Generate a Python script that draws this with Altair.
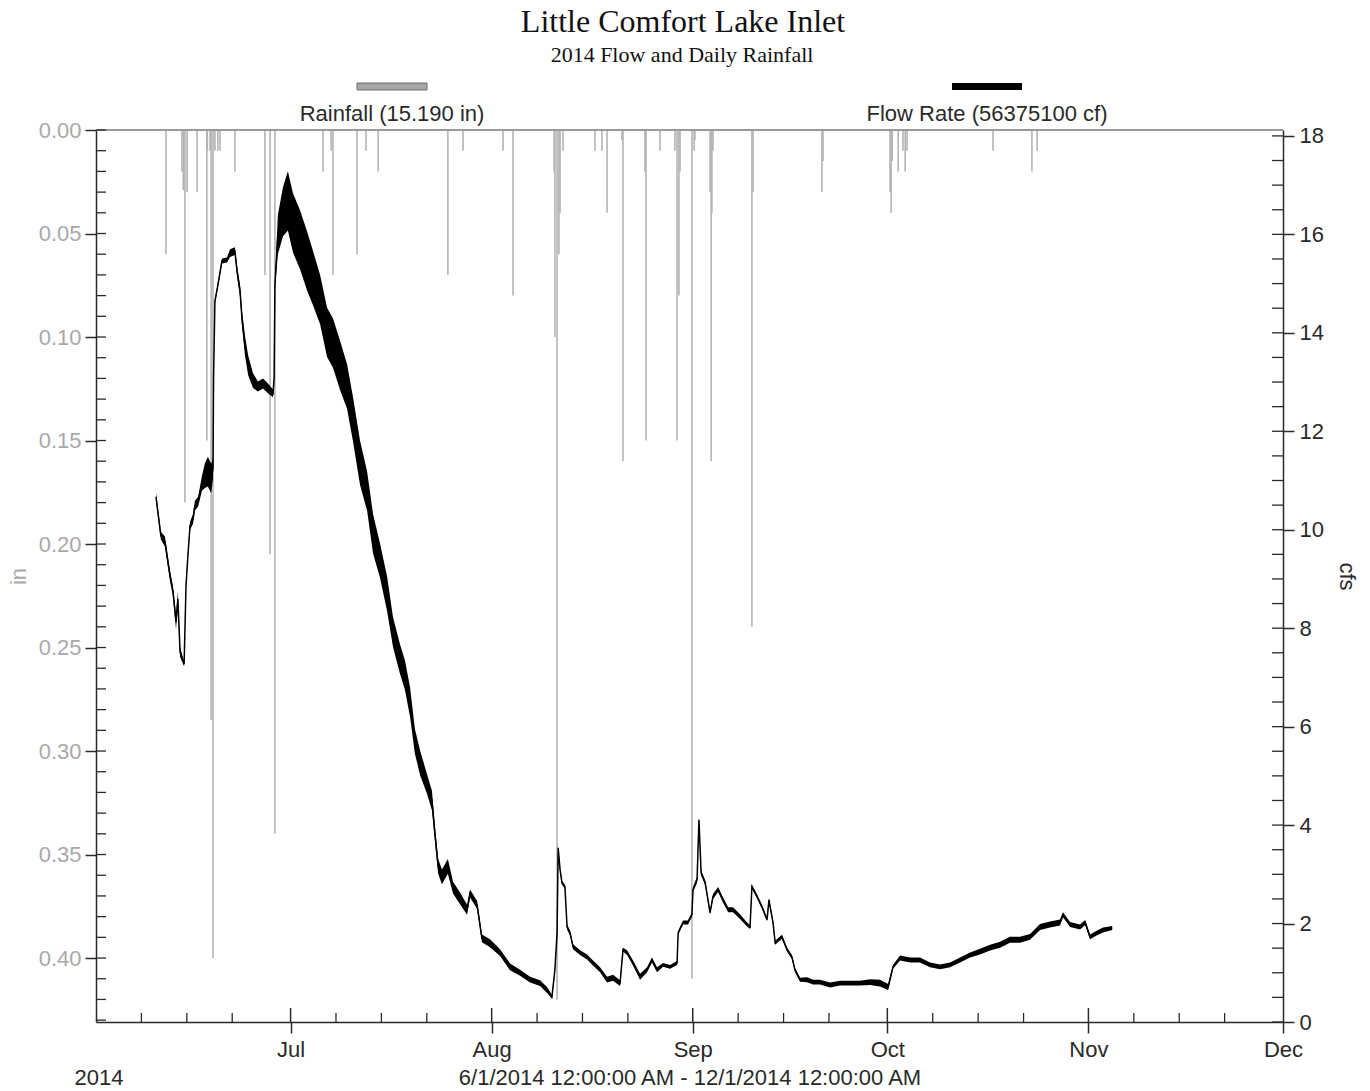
import altair as alt
import pandas as pd
import numpy as np

# ---------------- data ----------------
TITLE = "Little Comfort Lake Inlet"
SUBTITLE = "2014 Flow and Daily Rainfall"
LEGEND_RAIN = "Rainfall (15.190 in)"
LEGEND_FLOW = "Flow Rate (56375100 cf)"
YEAR_LABEL = "2014"
RANGE_LABEL = "6/1/2014 12:00:00 AM - 12/1/2014 12:00:00 AM"

rain_time = [
    "2014-06-11T19:00", "2014-06-14T06:00", "2014-06-14T11:00", "2014-06-14T17:00",
    "2014-06-15T01:00", "2014-06-16T14:00", "2014-06-18T02:00", "2014-06-18T04:00",
    "2014-06-18T14:00", "2014-06-18T18:00", "2014-06-19T01:00", "2014-06-19T08:00",
    "2014-06-19T19:00", "2014-06-20T03:00", "2014-06-22T10:00", "2014-06-27T01:00",
    "2014-06-27T20:00", "2014-06-28T14:00", "2014-07-06T00:00", "2014-07-07T06:00",
    "2014-07-07T13:00", "2014-07-11T06:00", "2014-07-12T15:00", "2014-07-14T12:00",
    "2014-07-25T06:00", "2014-07-27T14:00", "2014-08-02T18:00", "2014-08-04T07:00",
    "2014-08-10T15:00", "2014-08-10T18:00", "2014-08-11T02:00", "2014-08-11T09:00",
    "2014-08-11T13:00", "2014-08-12T00:00", "2014-08-16T22:00", "2014-08-18T00:00",
    "2014-08-18T19:00", "2014-08-21T02:00", "2014-08-21T06:00", "2014-08-24T15:00",
    "2014-08-24T19:00", "2014-08-26T23:00", "2014-08-29T06:00", "2014-08-29T14:00",
    "2014-08-29T21:00", "2014-08-30T01:00", "2014-08-31T21:00", "2014-09-01T05:00",
    "2014-09-01T08:00", "2014-09-03T16:00", "2014-09-03T20:00", "2014-09-03T23:00",
    "2014-09-04T03:00", "2014-09-10T03:00", "2014-09-10T07:00", "2014-09-20T22:00",
    "2014-09-21T02:00", "2014-10-01T10:00", "2014-10-01T14:00", "2014-10-01T18:00",
    "2014-10-02T16:00", "2014-10-03T10:00", "2014-10-03T18:00", "2014-10-04T01:00",
    "2014-10-17T07:00", "2014-10-23T07:00", "2014-10-24T02:00",
]
rain_in = [
    0.06, 0.02, 0.029, 0.18,
    0.03, 0.03, 0.15, 0.01,
    0.01, 0.285, 0.40, 0.01,
    0.01, 0.01, 0.02, 0.07,
    0.205, 0.34, 0.02, 0.01,
    0.07, 0.06, 0.01, 0.02,
    0.07, 0.01, 0.01, 0.08,
    0.02, 0.10, 0.42, 0.06,
    0.04, 0.01, 0.01, 0.01,
    0.04, 0.005, 0.16, 0.02,
    0.15, 0.01, 0.01, 0.15,
    0.08, 0.02, 0.41, 0.01,
    0.005, 0.03, 0.16, 0.04,
    0.01, 0.24, 0.03, 0.03,
    0.015, 0.03, 0.04, 0.015,
    0.02, 0.01, 0.02, 0.01,
    0.01, 0.02, 0.01,
]

flow_time = [
    "2014-06-10T06:00", "2014-06-11T00:00", "2014-06-11T15:00", "2014-06-12T10:00",
    "2014-06-12T21:00", "2014-06-13T08:00", "2014-06-13T15:00", "2014-06-13T23:00",
    "2014-06-14T14:00", "2014-06-14T21:00", "2014-06-15T04:00", "2014-06-15T12:00",
    "2014-06-15T23:00", "2014-06-16T06:00", "2014-06-16T18:00", "2014-06-17T08:00",
    "2014-06-17T19:00", "2014-06-18T06:00", "2014-06-18T18:00", "2014-06-19T01:00",
    "2014-06-19T03:00", "2014-06-19T08:00", "2014-06-19T19:00", "2014-06-20T10:00",
    "2014-06-21T05:00", "2014-06-21T16:00", "2014-06-22T10:00", "2014-06-22T18:00",
    "2014-06-23T05:00", "2014-06-23T12:00", "2014-06-23T23:00", "2014-06-24T11:00",
    "2014-06-25T05:00", "2014-06-25T23:00", "2014-06-26T18:00", "2014-06-27T12:00",
    "2014-06-28T07:00", "2014-06-28T11:00", "2014-06-28T14:00", "2014-06-29T01:00",
    "2014-06-29T20:00", "2014-06-30T14:00", "2014-07-01T09:00", "2014-07-02T11:00",
    "2014-07-03T13:00", "2014-07-04T11:00", "2014-07-05T13:00", "2014-07-06T15:00",
    "2014-07-07T13:00", "2014-07-08T15:00", "2014-07-09T17:00", "2014-07-10T15:00",
    "2014-07-11T17:00", "2014-07-12T19:00", "2014-07-13T17:00", "2014-07-14T19:00",
    "2014-07-15T21:00", "2014-07-16T19:00", "2014-07-17T21:00", "2014-07-18T15:00",
    "2014-07-19T10:00", "2014-07-20T04:00", "2014-07-20T23:00", "2014-07-22T01:00",
    "2014-07-22T19:00", "2014-07-23T06:00", "2014-07-23T18:00", "2014-07-24T08:00",
    "2014-07-25T06:00", "2014-07-26T01:00", "2014-07-27T03:00", "2014-07-28T05:00",
    "2014-07-28T16:00", "2014-07-29T18:00", "2014-07-30T12:00", "2014-07-31T18:00",
    "2014-08-02T07:00", "2014-08-03T20:00", "2014-08-05T09:00", "2014-08-06T22:00",
    "2014-08-08T11:00", "2014-08-09T13:00", "2014-08-10T07:00", "2014-08-10T18:00",
    "2014-08-11T02:00", "2014-08-11T06:00", "2014-08-11T13:00", "2014-08-11T20:00",
    "2014-08-12T07:00", "2014-08-12T15:00", "2014-08-13T02:00", "2014-08-13T13:00",
    "2014-08-14T15:00", "2014-08-15T17:00", "2014-08-16T15:00", "2014-08-17T17:00",
    "2014-08-18T19:00", "2014-08-19T17:00", "2014-08-20T19:00", "2014-08-21T06:00",
    "2014-08-21T21:00", "2014-08-22T19:00", "2014-08-23T21:00", "2014-08-24T23:00",
    "2014-08-25T17:00", "2014-08-26T12:00", "2014-08-27T10:00", "2014-08-28T12:00",
    "2014-08-29T14:00", "2014-08-29T18:00", "2014-08-30T12:00", "2014-08-31T06:00",
    "2014-08-31T21:00", "2014-09-01T01:00", "2014-09-01T16:00", "2014-09-01T23:00",
    "2014-09-02T07:00", "2014-09-02T22:00", "2014-09-03T16:00", "2014-09-04T03:00",
    "2014-09-04T22:00", "2014-09-05T16:00", "2014-09-06T11:00", "2014-09-07T05:00",
    "2014-09-08T07:00", "2014-09-09T09:00", "2014-09-09T20:00", "2014-09-10T03:00",
    "2014-09-10T22:00", "2014-09-11T16:00", "2014-09-12T11:00", "2014-09-12T18:00",
    "2014-09-13T09:00", "2014-09-13T17:00", "2014-09-14T18:00", "2014-09-15T13:00",
    "2014-09-16T07:00", "2014-09-16T18:00", "2014-09-17T13:00", "2014-09-18T15:00",
    "2014-09-19T13:00", "2014-09-20T15:00", "2014-09-22T04:00", "2014-09-23T17:00",
    "2014-09-25T06:00", "2014-09-26T19:00", "2014-09-28T08:00", "2014-09-29T21:00",
    "2014-10-01T03:00", "2014-10-01T21:00", "2014-10-02T23:00", "2014-10-04T12:00",
    "2014-10-06T01:00", "2014-10-07T14:00", "2014-10-09T03:00", "2014-10-10T16:00",
    "2014-10-12T05:00", "2014-10-13T18:00", "2014-10-15T07:00", "2014-10-16T20:00",
    "2014-10-18T09:00", "2014-10-19T22:00", "2014-10-21T11:00", "2014-10-23T00:00",
    "2014-10-24T13:00", "2014-10-26T02:00", "2014-10-27T15:00", "2014-10-28T02:00",
    "2014-10-29T04:00", "2014-10-30T17:00", "2014-10-31T12:00", "2014-11-01T06:00",
    "2014-11-02T08:00", "2014-11-03T06:00", "2014-11-04T16:00",
]
flow_cfs = [
    10.67, 9.88, 9.76, 9.06, 8.74, 8.13, 8.59, 7.52, 7.27, 8.86, 9.47, 10.08,
    10.22, 10.49, 10.57, 10.94, 11.10, 11.18, 11.04, 11.24, 13.08, 14.64, 14.97, 15.46,
    15.48, 15.62, 15.66, 15.25, 14.85, 14.30, 13.75, 13.34, 13.03, 12.91, 12.97, 12.87,
    12.77, 13.08, 14.97, 16.00, 16.46, 16.68, 16.23, 15.89, 15.46, 15.11, 14.68, 14.01,
    13.79, 13.34, 12.91, 12.24, 11.36, 10.79, 9.92, 9.37, 8.70, 7.92, 7.37, 7.05,
    6.50, 5.70, 5.27, 4.83, 4.50, 3.83, 3.16, 2.95, 3.16, 2.73, 2.51, 2.28,
    2.61, 2.38, 1.70, 1.60, 1.41, 1.12, 1.00, 0.86, 0.79, 0.65, 0.51, 1.06,
    1.81, 3.54, 3.10, 2.83, 2.75, 1.93, 1.81, 1.53, 1.41, 1.32, 1.20, 1.06,
    0.86, 0.90, 0.79, 1.47, 1.41, 1.20, 0.92, 1.06, 1.26, 1.06, 1.16, 1.12,
    1.20, 1.81, 2.02, 2.02, 2.18, 2.69, 2.89, 4.11, 3.03, 2.83, 2.22, 2.55,
    2.69, 2.48, 2.28, 2.28, 2.14, 1.98, 1.93, 2.75, 2.55, 2.34, 2.08, 2.48,
    2.02, 1.61, 1.73, 1.47, 1.32, 1.06, 0.86, 0.86, 0.81, 0.81, 0.75, 0.79,
    0.79, 0.79, 0.81, 0.79, 0.71, 1.12, 1.30, 1.26, 1.26, 1.16, 1.12, 1.16,
    1.26, 1.36, 1.43, 1.51, 1.57, 1.67, 1.67, 1.73, 1.93, 1.98, 2.02, 2.18,
    1.98, 1.93, 2.02, 1.73, 1.81, 1.87, 1.91,
]
# half-width of the daily fluctuation band around the flow line (cfs)
flow_spread = [
    0.08, 0.08, 0.10, 0.10, 0.10, 0.15, 0.15, 0.10, 0.05, 0.05, 0.05, 0.08,
    0.10, 0.10, 0.10, 0.15, 0.25, 0.30, 0.30, 0.20, 0.05, 0.05, 0.05, 0.05,
    0.05, 0.08, 0.08, 0.10, 0.12, 0.15, 0.20, 0.20, 0.15, 0.10, 0.10, 0.10,
    0.08, 0.05, 0.10, 0.40, 0.50, 0.60, 0.60, 0.60, 0.60, 0.55, 0.50, 0.50,
    0.50, 0.50, 0.45, 0.45, 0.45, 0.40, 0.40, 0.35, 0.35, 0.30, 0.30, 0.30,
    0.30, 0.25, 0.25, 0.20, 0.20, 0.15, 0.15, 0.15, 0.15, 0.12, 0.12, 0.10,
    0.08, 0.08, 0.08, 0.08, 0.07, 0.07, 0.06, 0.06, 0.06, 0.06, 0.04, 0.03,
    0.03, 0.03, 0.04, 0.04, 0.04, 0.05, 0.05, 0.05, 0.05, 0.05, 0.05, 0.05,
    0.06, 0.06, 0.06, 0.04, 0.05, 0.05, 0.06, 0.05, 0.05, 0.05, 0.04, 0.04,
    0.04, 0.04, 0.04, 0.04, 0.04, 0.05, 0.06, 0.04, 0.05, 0.05, 0.04, 0.05,
    0.05, 0.05, 0.05, 0.05, 0.05, 0.04, 0.04, 0.04, 0.04, 0.04, 0.04, 0.04,
    0.04, 0.04, 0.04, 0.04, 0.04, 0.04, 0.04, 0.05, 0.05, 0.05, 0.05, 0.05,
    0.05, 0.05, 0.06, 0.07, 0.06, 0.04, 0.05, 0.05, 0.05, 0.05, 0.05, 0.05,
    0.05, 0.05, 0.06, 0.06, 0.06, 0.06, 0.06, 0.06, 0.06, 0.06, 0.06, 0.05,
    0.05, 0.05, 0.05, 0.05, 0.05, 0.05, 0.04,
]

rain_ticks = [0.0, 0.05, 0.10, 0.15, 0.20, 0.25, 0.30, 0.35, 0.40]
flow_ticks = [0, 2, 4, 6, 8, 10, 12, 14, 16, 18]
month_ticks = [7, 8, 9, 10, 11, 12]
minor_days = [8, 15, 22]

# ---------------- layout ----------------
W, H = 1187, 892
SANS = "Liberation Sans"
SERIF = "Liberation Serif"
DARK = "#2a2a2a"
LEFTGRAY = "#a9a9a9"
FS = 22

x_scale = alt.Scale(domain=[alt.DateTime(year=2014, month=6, date=1),
                            alt.DateTime(year=2014, month=12, date=1)], nice=False)
rain_scale = alt.Scale(domain=[0, 0.4309], reverse=True, nice=False, zero=False)
flow_scale = alt.Scale(domain=[0, 18.12], nice=False, zero=False)

x_axis = alt.Axis(
    values=[alt.DateTime(year=2014, month=m, date=1) for m in month_ticks],
    format="%b", labelFont=SANS, labelFontSize=FS, labelColor=DARK,
    labelFlush=False, labelOverlap=False, labelPadding=6,
    tickSize=11, tickColor=DARK, tickWidth=1.5, domainColor=DARK, domainWidth=1.5,
    grid=False, title=RANGE_LABEL, titleFont=SANS, titleFontSize=FS,
    titleFontWeight="normal", titleColor=DARK, titlePadding=7,
)

rain_df = pd.DataFrame({"t": rain_time, "rain": rain_in})
rain_df["zero"] = 0.0
flow_df = pd.DataFrame({"t": flow_time, "cfs": flow_cfs, "sp": flow_spread})
flow_df["lo"] = flow_df["cfs"] - flow_df["sp"]
flow_df["hi"] = flow_df["cfs"] + flow_df["sp"]

X = alt.X("t:T", scale=x_scale, axis=x_axis)

rain = alt.Chart(rain_df).mark_rule(color="#b4b4b4", strokeWidth=1.6).encode(
    x=X,
    y=alt.Y("zero:Q", scale=rain_scale, axis=alt.Axis(
        orient="left", values=rain_ticks, format=".2f", title="in",
        labelFont=SANS, labelFontSize=FS, labelColor=LEFTGRAY, labelPadding=4,
        titleFont=SANS, titleFontSize=FS, titleFontWeight="normal", titleColor=LEFTGRAY,
        titlePadding=8, tickSize=11, tickColor=DARK, tickWidth=1.5,
        domainColor=DARK, domainWidth=1.5, grid=False, labelOverlap=False)),
    y2="rain:Q",
)

top_line = alt.Chart(pd.DataFrame({"k": [0]})).mark_rule(color="#9a9a9a", strokeWidth=2).encode(
    x=alt.value(0), x2=alt.value(W), y=alt.value(0))

band = alt.Chart(flow_df).mark_area(color="black", opacity=1).encode(
    x=X,
    y=alt.Y("lo:Q", scale=flow_scale, axis=alt.Axis(
        orient="right", values=flow_ticks, format="d", title="cfs",
        labelFont=SANS, labelFontSize=FS, labelColor=DARK, labelPadding=5,
        titleFont=SANS, titleFontSize=FS, titleFontWeight="normal", titleColor=DARK,
        titlePadding=11, tickSize=11, tickColor=DARK, tickWidth=1.5,
        domainColor=DARK, domainWidth=1.5, grid=False, labelOverlap=False)),
    y2="hi:Q",
)
line = alt.Chart(flow_df).mark_line(color="black", strokeWidth=1.5).encode(
    x=X, y=alt.Y("cfs:Q", scale=flow_scale, axis=None))

# inward tick marks (minor + major) drawn from the scales
left_minor = pd.DataFrame({"v": np.round(np.arange(0, 0.431, 0.01), 2)})
left_ticks = alt.Chart(left_minor).mark_rule(color=DARK, strokeWidth=1.3).encode(
    y=alt.Y("v:Q", scale=rain_scale, axis=None), x=alt.value(0), x2=alt.value(10))

right_minor = pd.DataFrame({"v": np.arange(0, 18.01, 0.5)})
right_ticks = alt.Chart(right_minor).mark_rule(color=DARK, strokeWidth=1.3).encode(
    y=alt.Y("v:Q", scale=flow_scale, axis=None), x=alt.value(W - 11), x2=alt.value(W))

minor_dates = [f"2014-{m:02d}-{d:02d}T00:00" for m in range(6, 12) for d in minor_days]
bottom_minor = alt.Chart(pd.DataFrame({"t": minor_dates})).mark_rule(
    color=DARK, strokeWidth=1.3).encode(x=X, y=alt.value(H - 9), y2=alt.value(H))
major_dates = [f"2014-{m:02d}-01T00:00" for m in month_ticks[:-1]]
bottom_major = alt.Chart(pd.DataFrame({"t": major_dates})).mark_rule(
    color=DARK, strokeWidth=1.5).encode(x=X, y=alt.value(H - 14), y2=alt.value(H))


def text_layer(label, x, y, size, font, color=DARK, align="center"):
    return alt.Chart(pd.DataFrame({"label": [label]})).mark_text(
        font=font, fontSize=size, color=color, align=align, baseline="alphabetic"
    ).encode(text="label:N", x=alt.value(x), y=alt.value(y))


title = text_layer(TITLE, 587, -98, 32, SERIF, "#111111")
subtitle = text_layer(SUBTITLE, 586, -68, 22, SERIF, "#111111")
leg_rain_txt = text_layer(LEGEND_RAIN, 296, -9, FS, SANS)
leg_flow_txt = text_layer(LEGEND_FLOW, 891, -9, FS, SANS)
year_txt = text_layer(YEAR_LABEL, 3, H + 63, FS, SANS)

leg_rain_bar = alt.Chart(pd.DataFrame({"k": [LEGEND_RAIN]})).mark_rect(
    color="#a6a6a6", stroke="#6e6e6e", strokeWidth=1).encode(
    x=alt.value(261), x2=alt.value(331), y=alt.value(-47), y2=alt.value(-40))
leg_flow_bar = alt.Chart(pd.DataFrame({"k": [LEGEND_FLOW]})).mark_rect(
    color="black").encode(
    x=alt.value(856), x2=alt.value(926), y=alt.value(-47), y2=alt.value(-40))

chart = alt.layer(
    rain, top_line, band, line, left_ticks, right_ticks, bottom_minor, bottom_major,
    title, subtitle, leg_rain_bar, leg_flow_bar, leg_rain_txt, leg_flow_txt, year_txt,
).resolve_scale(y="independent").properties(
    width=W, height=H,
    autosize=alt.AutoSizeParams(type="none"),
    padding={"left": 96, "top": 130, "right": 87, "bottom": 69},
    background="white",
).configure_view(stroke="transparent")

chart.save("out.html", embed_options={"renderer": "svg", "actions": False})
